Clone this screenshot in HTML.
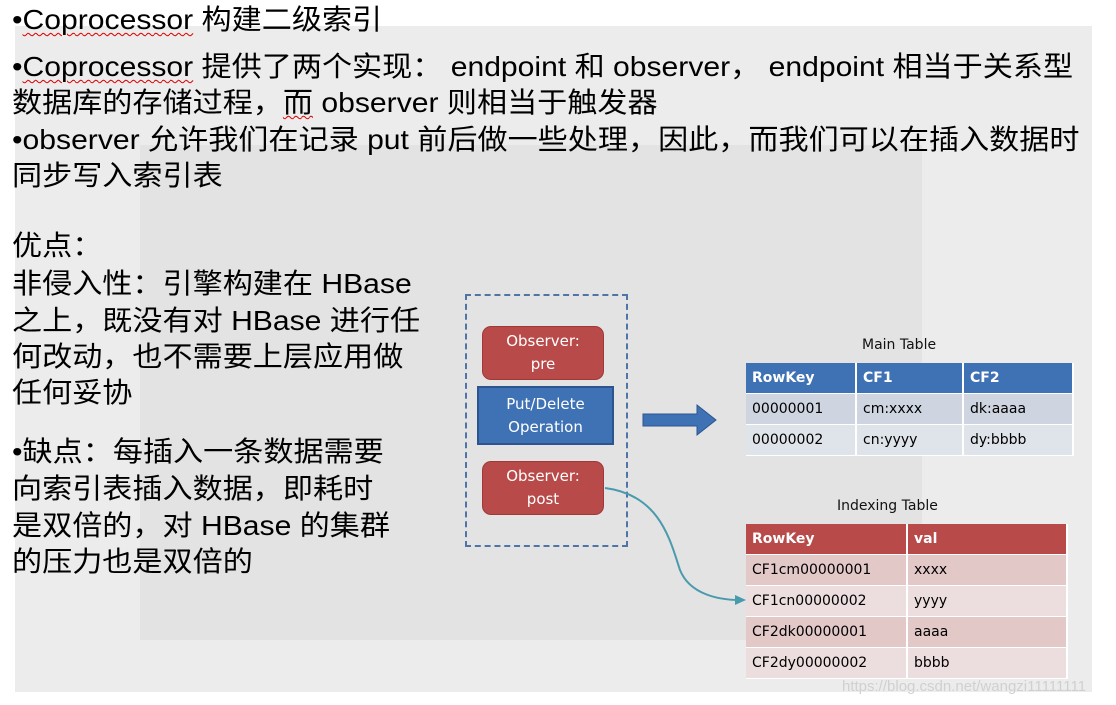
<!DOCTYPE html>
<html><head><meta charset="utf-8"><style>
body{margin:0;width:1116px;height:705px;background:#fff;position:relative;overflow:hidden;font-family:"Liberation Sans","Noto Sans CJK SC",sans-serif;}
.bg1{position:absolute;left:15px;top:26px;width:1077px;height:666px;background:#ececec}
.bg2{position:absolute;left:140px;top:145px;width:782px;height:495px;background:#e3e3e3}
.t{position:absolute;left:12px;font-size:28px;color:#000;white-space:nowrap;line-height:30px;transform:scaleX(1.075);transform-origin:0 0}
.sq{text-decoration:underline wavy #d00;text-decoration-thickness:1px;text-underline-offset:3px}
.box{position:absolute;color:#fff;font-size:15px;text-align:center;line-height:23px;font-family:"DejaVu Sans",sans-serif}
table{position:absolute;border-collapse:collapse;font-family:"DejaVu Sans",sans-serif;font-size:14px}
td{height:30px;padding:0 0 0 6px;border:2px solid #fff;border-width:0 2px 1px 0}
.lbl{position:absolute;font-family:"DejaVu Sans",sans-serif;font-size:14px;color:#111}
</style></head><body>
<div class="bg1"></div><div class="bg2"></div>
<div class="t" style="top:5px">•<span class="sq">Coprocessor</span> 构建二级索引</div>
<div class="t" style="top:52px">•<span class="sq">Coprocessor</span> 提供了两个实现： endpoint 和 observer， endpoint 相当于关系型</div>
<div class="t" style="top:88px">数据库的存储过程，<span class="sq">而</span> observer 则相当于触发器</div>
<div class="t" style="top:125px">•observer 允许我们在记录 put 前后做一些处理，因此，而我们可以在插入数据时</div>
<div class="t" style="top:161px">同步写入索引表</div>
<div class="t" style="top:231px">优点：</div>
<div class="t" style="top:269px">非侵入性：引擎构建在 HBase</div>
<div class="t" style="top:306px">之上，既没有对 HBase 进行任</div>
<div class="t" style="top:342px">何改动，也不需要上层应用做</div>
<div class="t" style="top:378px">任何妥协</div>
<div class="t" style="top:437px">•缺点：每插入一条数据需要</div>
<div class="t" style="top:474px">向索引表插入数据，即耗时</div>
<div class="t" style="top:511px">是双倍的，对 HBase 的集群</div>
<div class="t" style="top:547px">的压力也是双倍的</div>

<div style="position:absolute;left:465px;top:294px;width:159px;height:249px;border:2px dashed #4f74a8"></div>
<div class="box" style="left:483px;top:327px;width:120px;height:52px;background:#b84a4a;border-radius:8px;box-shadow:0 0 0 1px #a03838"><div style="padding-top:3px">Observer:<br>pre</div></div>
<div class="box" style="left:477px;top:386px;width:137px;height:59px;background:#3f72b5;border:2px solid #2c5590;box-sizing:border-box"><div style="padding-top:5px">Put/Delete<br>Operation</div></div>
<div class="box" style="left:483px;top:462px;width:120px;height:52px;background:#b84a4a;border-radius:8px;box-shadow:0 0 0 1px #a03838"><div style="padding-top:3px">Observer:<br>post</div></div>

<svg style="position:absolute;left:0;top:0" width="1116" height="705">
<polygon points="643,414 697,414 697,405 716,420 697,435 697,426 643,426" fill="#3f72b5" stroke="#2c5590"/>
<path d="M605,488 C660,495 670,540 680,570 C690,595 720,600 740,600" fill="none" stroke="#4a9aad" stroke-width="2"/>
<polygon points="735,595 746,600 735,605" fill="#4a9aad"/>
</svg>

<div class="lbl" style="left:862px;top:337px">Main Table</div>
<table style="left:746px;top:363px;width:328px">
<tr style="background:#3f72b5;color:#fff;font-weight:bold"><td style="width:103px">RowKey</td><td style="width:99px">CF1</td><td>CF2</td></tr>
<tr style="background:#cfd5e0"><td>00000001</td><td>cm:xxxx</td><td>dk:aaaa</td></tr>
<tr style="background:#dfe3ea"><td>00000002</td><td>cn:yyyy</td><td>dy:bbbb</td></tr>
</table>
<div class="lbl" style="left:837px;top:498px">Indexing Table</div>
<table style="left:746px;top:524px;width:322px">
<tr style="background:#b84a4a;color:#fff;font-weight:bold"><td style="width:154px">RowKey</td><td>val</td></tr>
<tr style="background:#e3c8c8"><td>CF1cm00000001</td><td>xxxx</td></tr>
<tr style="background:#ecdede"><td>CF1cn00000002</td><td>yyyy</td></tr>
<tr style="background:#e3c8c8"><td>CF2dk00000001</td><td>aaaa</td></tr>
<tr style="background:#ecdede"><td>CF2dy00000002</td><td>bbbb</td></tr>
</table>
<div style="position:absolute;left:842px;top:678px;font-size:15px;color:#d0d0d0;font-family:'Liberation Sans',sans-serif">https://blog.csdn.net/wangzi11111111</div>
</body></html>
